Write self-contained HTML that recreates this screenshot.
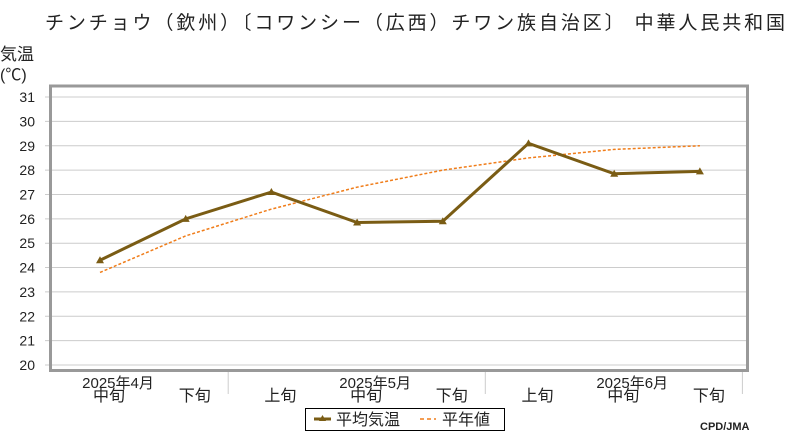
<!DOCTYPE html>
<html><head><meta charset="utf-8"><style>
body{margin:0;background:#fff;}
svg text{font-family:"Liberation Sans","Noto Sans CJK JP",sans-serif;}
</style></head><body>
<svg id="c" width="800" height="440" xmlns="http://www.w3.org/2000/svg">
<text x="45" y="29" font-size="19" fill="#222" textLength="740" lengthAdjust="spacing">チンチョウ（欽州）〔コワンシー（広西）チワン族自治区〕 中華人民共和国</text>
<text x="0" y="60" font-size="17" fill="#222">気温</text>
<text x="0" y="80" font-size="16" fill="#222">(℃)</text>
<g id="grid"></g>
<rect x="50.5" y="86" width="697" height="284.5" fill="none" stroke="#999" stroke-width="3"/>
<g id="xlab"></g>
<g id="series"></g>
<g>
<rect x="305.5" y="408.5" width="199" height="22" fill="#fff" stroke="#000"/>
<line x1="314" y1="419" x2="331" y2="419" stroke="#7a5c14" stroke-width="3"/>
<polygon points="322.5,415 326,421 319,421" fill="#7a5c14"/>
<text x="336" y="425" font-size="16" fill="#222">平均気温</text>
<line x1="420" y1="419" x2="436" y2="419" stroke="#f07d1a" stroke-width="1.5" stroke-dasharray="4,3"/>
<text x="442" y="425" font-size="16" fill="#222">平年値</text>
</g>
<text x="700" y="430" font-size="11" font-weight="bold" fill="#222" font-family="Liberation Mono">CPD/JMA</text>
</svg>
<script>
const categories=["中旬","下旬","上旬","中旬","下旬","上旬","中旬","下旬"];
const months=["2025年4月","2025年5月","2025年6月"];
const meanTemp=[24.3,26.0,27.1,25.85,25.9,29.1,27.85,27.95];
const normalTemp=[23.8,25.3,26.4,27.3,28.0,28.5,28.85,29.0];
const yTicks=[20,21,22,23,24,25,26,27,28,29,30,31];
const NS="http://www.w3.org/2000/svg";
function x(i){return 100+i*85.7;}
function y(v){return 365-(v-20)*24.36;}
function mk(t,a,p){const e=document.createElementNS(NS,t);for(const k in a)e.setAttribute(k,a[k]);p.appendChild(e);return e;}
const grid=document.getElementById('grid'),xl=document.getElementById('xlab'),se=document.getElementById('series');
yTicks.forEach(v=>{
const l=mk('line',{x1:45,x2:747,y1:y(v),y2:y(v),stroke:'#ccc'},grid);


const t=mk('text',{x:35,y:y(v)+5,'text-anchor':'end','font-size':14,fill:'#222'},grid);
t.textContent=v;


});
categories.forEach((c,i)=>{
const t=mk('text',{x:x(i)+9,y:401,'text-anchor':'middle','font-size':16,fill:'#222'},xl);
t.textContent=c;


});
months.forEach((m,j)=>{
const t=mk('text',{x:x(j*3)+18,y:388,'text-anchor':'middle','font-size':15,fill:'#222'},xl);
t.textContent=m;


const s=mk('line',{x1:x(j*3+1)+42.5,x2:x(j*3+1)+42.5,y1:372,y2:394,stroke:'#ccc'},xl);


});
const np=mk('polyline',{points:normalTemp.map((v,i)=>x(i)+','+y(v)).join(' '),fill:'none',stroke:'#f07d1a','stroke-width':1.5,'stroke-dasharray':'3,2'},se);


const mp=mk('polyline',{points:meanTemp.map((v,i)=>x(i)+','+y(v)).join(' '),fill:'none',stroke:'#7a5c14','stroke-width':3},se);


meanTemp.forEach((v,i)=>{
const px=x(i),py=y(v);
const m=mk('polygon',{points:`${px},${py-4} ${px+4},${py+3} ${px-4},${py+3}`,fill:'#7a5c14'},se);


});
</script>
</body></html>
